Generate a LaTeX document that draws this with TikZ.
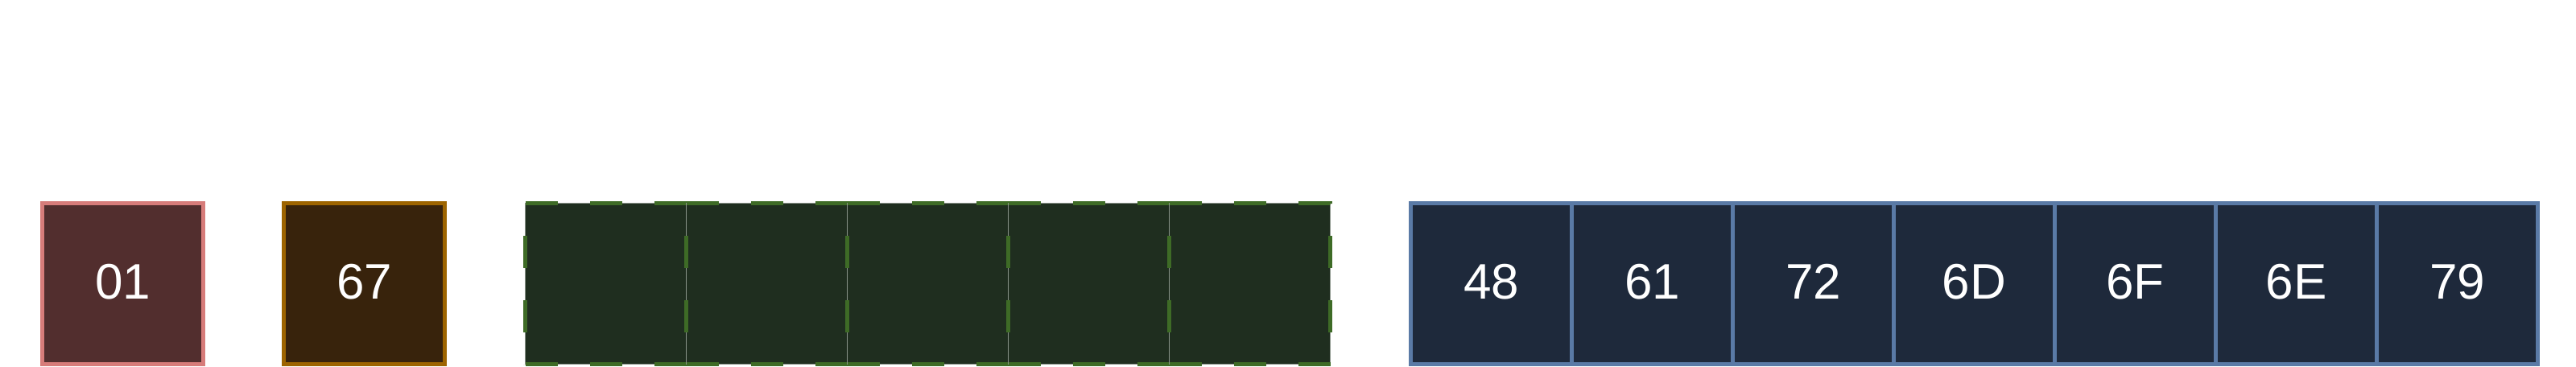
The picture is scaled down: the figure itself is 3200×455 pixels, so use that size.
\documentclass[tikz,border=0pt]{standalone}
\usepackage{fontspec}
\setmainfont{Liberation Sans}
\definecolor{redfill}{HTML}{522E2E}
\definecolor{redline}{HTML}{D77C7A}
\definecolor{orfill}{HTML}{38230C}
\definecolor{orline}{HTML}{9D6400}
\definecolor{grfill}{HTML}{1F2E1F}
\definecolor{grline}{HTML}{3E6B26}
\definecolor{grthin}{HTML}{8A948A}
\definecolor{blfill}{HTML}{1E293B}
\definecolor{blline}{HTML}{5A7AA6}
\tikzset{
  cell/.style={rectangle, inner sep=0pt, outer sep=0pt, minimum width=200pt, minimum height=200pt,
    line width=5pt, text=white, text depth=6pt, font=\fontsize{62}{74}\selectfont},
  redcell/.style={cell, fill=redfill, draw=redline},
  orcell/.style={cell, fill=orfill, draw=orline},
  grcell/.style={cell, fill=grfill, draw=grthin, line width=1.5pt,
    postaction={draw=grline, line width=4.5pt, dash pattern=on 40pt off 40pt}},
  blcell/.style={cell, fill=blfill, draw=blline}
}
\begin{document}
\begin{tikzpicture}[x=1pt,y=-1pt]
\useasboundingbox (0,0) rectangle (3200,455);
\node[redcell] (r1) at (152.5,352.5) {01};
\node[orcell] (o1) at (452.5,352.5) {67};
\foreach \i in {0,...,4} {
  \node[grcell] (g\i) at (752.5+200*\i,352.5) {};
}
\foreach \t [count=\i from 0] in {48,61,72,6D,6F,6E,79} {
  \node[blcell] (b\i) at (1852.5+200*\i,352.5) {\t};
}
\end{tikzpicture}
\end{document}
